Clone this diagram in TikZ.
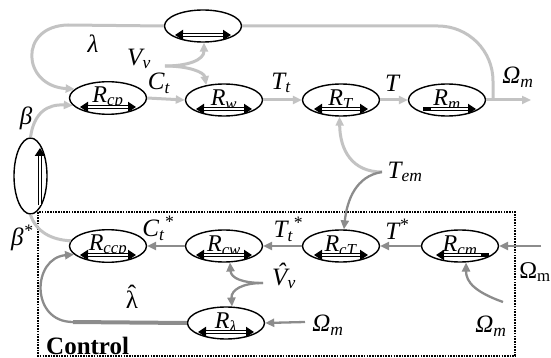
\documentclass[tikz,border=0pt]{standalone}
\usepackage{fontspec}
\setmainfont{Liberation Serif}
\usetikzlibrary{shapes.geometric,arrows.meta,calc}
\definecolor{lgray}{HTML}{C3C3C3}
\definecolor{dgray}{HTML}{8C8C8C}
\newcommand\uhat[1]{\accent"02C6 #1}
\newcommand\ibar[4]{%
  \draw[line width=3.4pt,#4] ([shift={(#2pt,-9pt)}]#1.center) -- ([shift={(#3pt,-9pt)}]#1.center);
  \draw[white,line width=1.1pt,shorten <=8pt,shorten >=8pt] ([shift={(#2pt,-9pt)}]#1.center) -- ([shift={(#3pt,-9pt)}]#1.center);}
\begin{document}
\begin{tikzpicture}[x=1pt,y=-1pt,
  blk/.style={ellipse,draw,line width=1.4pt,minimum width=77pt,minimum height=32pt,inner sep=0pt,font=\fontsize{24}{26}\selectfont},
  lg/.style={draw=lgray,line width=3pt},
  dg/.style={draw=dgray,line width=2.3pt},
  tip/.style={-{Triangle[length=9pt,width=8pt]}},
  both/.style={{Triangle[length=8pt,width=10pt]}-{Triangle[length=8pt,width=10pt]}},
  rt/.style={-{Triangle[length=8pt,width=10pt]}},
  lt/.style={{Triangle[length=8pt,width=10pt]}-},
  lab/.style={inner sep=0pt,font=\fontsize{25}{27}\selectfont\itshape}
]
\useasboundingbox (0,0) rectangle (551,358);

% control box
\draw[line width=1.8pt,dash pattern=on 1.6pt off 1.1pt] (38,212) rectangle (515,356);

% blocks
\node[blk] (top) at (203,26) {};
\node[blk] (Rcp) at (108,98) {\raisebox{2pt}{\textit{R}\textsubscript{\textit{cp}}}};
\node[blk] (Rw) at (224,100) {\raisebox{2pt}{\textit{R}\textsubscript{\textit{w}}}};
\node[blk] (RT) at (341,100) {\raisebox{2pt}{\textit{R}\textsubscript{\textit{T}}}};
\node[blk] (Rm) at (447,100) {\raisebox{2pt}{\textit{R}\textsubscript{\textit{m}}}};
\node[ellipse,draw,line width=1.4pt,minimum width=33pt,minimum height=76pt,inner sep=0pt] (beta) at (30.5,176) {};
\node[blk] (Rccp) at (108,246) {\raisebox{2pt}{\textit{R}\textsubscript{\textit{ccp}}}};
\node[blk] (Rcw) at (224,246) {\raisebox{2pt}{\textit{R}\textsubscript{\textit{cw}}}};
\node[blk] (RcT) at (341,246) {\raisebox{2pt}{\textit{R}\textsubscript{\textit{cT}}}};
\node[blk] (Rcm) at (460,246) {\raisebox{2pt}{\textit{R}\textsubscript{\textit{cm}}}};
\node[blk] (Rl) at (226,323) {\raisebox{2pt}{\textit{R}\textsubscript{\textit{λ}}}};

% inner bars
\ibar{top}{-28}{28}{both}
\ibar{Rcp}{-28}{28}{both}
\ibar{Rw}{-28}{28}{both}
\ibar{RT}{-27}{27}{both}
\ibar{Rm}{-24}{29}{rt}
\ibar{Rccp}{-28}{28}{both}
\ibar{Rcw}{-28}{28}{both}
\ibar{RcT}{-27}{27}{both}
\ibar{Rcm}{-24}{29}{lt}
\ibar{Rl}{-28}{28}{both}
\draw[line width=3.4pt,-{Triangle[length=8pt,width=10pt]}] ([shift={(9.5pt,-29pt)}]beta.center) -- ([shift={(9.5pt,28pt)}]beta.center);
\draw[white,line width=1.1pt,shorten >=8pt] ([shift={(9.5pt,-29pt)}]beta.center) -- ([shift={(9.5pt,28pt)}]beta.center);

% plant connectors
\coordinate (jn) at (493,100);
\coordinate (out) at (531,100);
\coordinate (lam) at (68,25);
\coordinate (vv) at (165,66);
\coordinate (tem) at (382,172);
\draw[lg,tip] (Rm.east) -- (out);
\draw[lg,rounded corners=55pt] (jn) |- (top.east);
\draw[lg] (top.west) -- (lam);
\draw[lg,tip] (lam) .. controls (18,26) and (22,86) .. (Rcp.165);
\draw[lg,tip] (beta.north) .. controls (34,112) and (48,104) .. (Rcp.192);
\draw[lg,tip] (vv) .. controls (188,66) and (204,60) .. ([xshift=1pt]top.south);
\draw[lg,tip] (vv) .. controls (188,66) and (204,72) .. (Rw.140);
\draw[lg,tip] (Rcp.east) -- (Rw.west);
\draw[lg,tip] (Rw.east) -- (RT.west);
\draw[lg,tip] (RT.east) -- (Rm.west);
\draw[lg,tip] (tem) .. controls (352,172) and (340,150) .. (RT.265);
\draw[dg,tip] (tem) .. controls (356,176) and (347,200) .. (RcT.80);

% control connectors
\coordinate (om1) at (541,246);
\coordinate (om2) at (503,302);
\coordinate (vh) at (263,283);
\coordinate (lh) at (73,322);
\coordinate (om3) at (305,322);
\draw[dg,tip] (om1) -- (Rcm.east);
\draw[dg,tip] (Rcm.west) -- (RcT.east);
\draw[dg,tip] (RcT.west) -- (Rcw.east);
\draw[dg,tip] (Rcw.west) -- (Rccp.east);
\draw[dg,tip] (om2) .. controls (475,292) and (466,282) .. (Rcm.-70);
\draw[lg] (beta.south) .. controls (36,232) and (52,240) .. (Rccp.172);
\draw[dg,tip] (vh) .. controls (242,283) and (231,278) .. (Rcw.-70);
\draw[dg,tip] (vh) .. controls (242,283) and (231,290) .. (Rl.70);
\draw[dg,line width=4pt] (Rl.west) -- (lh);
\draw[dg,tip] (lh) .. controls (30,322) and (32,258) .. (Rccp.194);
\draw[dg,tip] (om3) -- (Rl.east);

% labels
\node[lab] (lamL) at (93,44) {λ};
\node[lab] (vvL) at (139,59) {V\textsubscript{v}};
\node[lab] (betaL) at (26,118) {β};
\node[lab] (ctL) at (159,83) {C\textsubscript{t}};
\node[lab] (ttL) at (281,83) {T\textsubscript{t}};
\node[lab] (tL) at (392,83) {T};
\node[lab] (omL) at (518,77) {Ω\textsubscript{m}};
\node[lab] (temL) at (405,172) {T\textsubscript{em}};
\node[lab] (ctsL) at (158,228) {C\textsubscript{t}\textsuperscript{*}};
\node[lab] (ttsL) at (288,229) {T\textsubscript{t}\textsuperscript{*}};
\node[lab] (tsL) at (397,229) {T\textsuperscript{*}};
\node[lab] (betasL) at (22,238) {β\textsuperscript{*}};
\node[lab] (vhL) at (284,276) {\uhat{V}\textsubscript{v}};
\node[lab,font=\fontsize{25}{27}\selectfont] (lhL) at (132,297) {\uhat{λ}};
\node[lab] (om3L) at (328,325) {Ω\textsubscript{m}};
\node[lab] (om2L) at (491,326) {Ω\textsubscript{m}};
\node[inner sep=0pt,font=\fontsize{24}{26}\selectfont] (om1L) at (535,272) {Ω\textsubscript{m}};
\node[inner sep=0pt,anchor=base west,font=\fontsize{25}{27}\selectfont\bfseries] (ctrl) at (46,354) {Control};
\end{tikzpicture}
\end{document}
